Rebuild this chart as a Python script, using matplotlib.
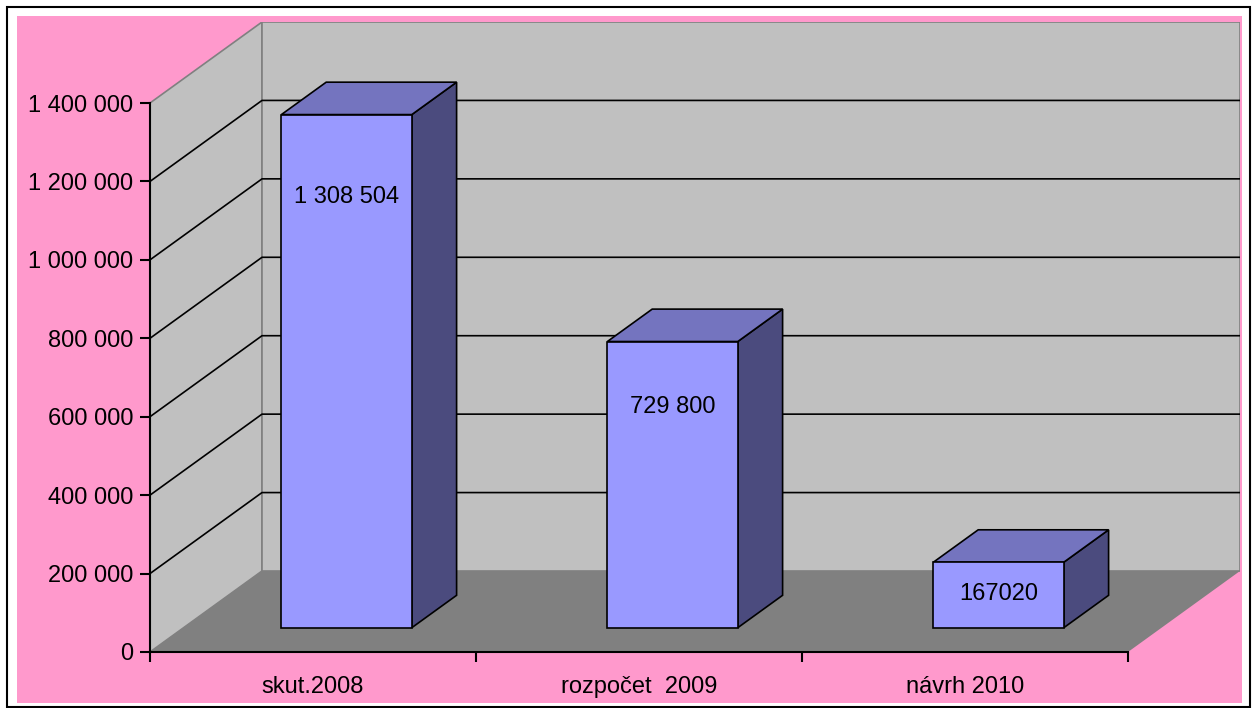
import matplotlib
matplotlib.use("Agg")
from matplotlib import pyplot as plt
from matplotlib.patches import Polygon, Rectangle
from matplotlib.ticker import FuncFormatter

# data
categories = ["skut.2008", "rozpočet  2009", "návrh 2010"]
values = [1308504, 729800, 167020]
value_labels = ["1 308 504", "729 800", "167020"]
y_ticks = [0, 200000, 400000, 600000, 800000, 1000000, 1200000, 1400000]

# layout / look
W, H = 1254, 708
YMAX = 1400000
DX = 112 / 326          # depth offset in category units (full depth)
DY = YMAX * 81 / 549    # depth offset in value units (full depth)
BAR_W = 0.4
BAR_D0, BAR_D1 = 0.3, 0.7   # bar front/back depth fraction
label_frac = [0.84, 0.77, 0.52]

PINK = "#ff99cc"
WALL = "#c0c0c0"
FLOOR = "#808080"
FRONT = "#9999ff"
TOP = "#7474bf"
SIDE = "#4b4b7e"
FONT = "Liberation Sans"

plt.rcParams["font.family"] = [FONT, "DejaVu Sans"]


def P(x, y, d):
    return (x + d * DX, y + d * DY)


fig = plt.figure(figsize=(W / 100, H / 100), dpi=100)
fig.patch.set_facecolor("white")
fig.patches.append(Rectangle((17 / W, 1 - 703 / H), (1242 - 17) / W, (703 - 16) / H,
                             transform=fig.transFigure, facecolor=PINK, edgecolor="none", zorder=-10))
fig.patches.append(Rectangle((7 / W, 1 - 707 / H), (1250 - 7) / W, (707 - 7) / H,
                             transform=fig.transFigure, facecolor="none", edgecolor="black",
                             linewidth=1.5, zorder=-9))

ax = fig.add_axes([150 / W, 56 / H, 1090 / W, 630 / H])
ax.patch.set_visible(False)
ncat = len(categories)
ax.set_xlim(0, ncat + DX)
ax.set_ylim(0, YMAX + DY)

# walls
left_wall = [P(0, 0, 0), P(0, YMAX, 0), P(0, YMAX, 1), P(0, 0, 1)]
back_wall = [P(0, 0, 1), P(0, YMAX, 1), P(ncat, YMAX, 1), P(ncat, 0, 1)]
ax.add_patch(Polygon(left_wall, closed=True, facecolor=WALL, edgecolor=FLOOR, lw=1.2, zorder=1))
ax.add_patch(Polygon(back_wall, closed=True, facecolor=WALL, edgecolor=FLOOR, lw=1.2, zorder=1))

# gridlines
for v in y_ticks[1:-1]:
    x0, y0 = P(0, v, 0)
    x1, y1 = P(0, v, 1)
    x2, y2 = P(ncat, v, 1)
    ax.plot([x0, x1, x2], [y0, y1, y2], color="black", lw=1.2, zorder=2)

# floor
floor = [P(0, 0, 0), P(ncat, 0, 0), P(ncat, 0, 1), P(0, 0, 1)]
ax.add_patch(Polygon(floor, closed=True, facecolor=FLOOR, edgecolor="none", zorder=3))

# bars
for i, v in enumerate(values):
    xl = i + 0.5 - BAR_W / 2
    xr = i + 0.5 + BAR_W / 2
    front = [P(xl, 0, BAR_D0), P(xr, 0, BAR_D0), P(xr, v, BAR_D0), P(xl, v, BAR_D0)]
    top = [P(xl, v, BAR_D0), P(xr, v, BAR_D0), P(xr, v, BAR_D1), P(xl, v, BAR_D1)]
    side = [P(xr, 0, BAR_D0), P(xr, 0, BAR_D1), P(xr, v, BAR_D1), P(xr, v, BAR_D0)]
    for poly, col in ((side, SIDE), (top, TOP), (front, FRONT)):
        ax.add_patch(Polygon(poly, closed=True, facecolor=col, edgecolor="black",
                             lw=1.2, joinstyle="miter", zorder=4))
    lx, ly = P(i + 0.5, v * label_frac[i], BAR_D0)
    ax.text(lx, ly, value_labels[i], ha="center", va="center", fontsize=17,
            color="black", zorder=5)

# axes
for s in ("top", "right"):
    ax.spines[s].set_visible(False)
ax.spines["left"].set_bounds(0, YMAX)
ax.spines["bottom"].set_bounds(0, ncat)
for s in ("left", "bottom"):
    ax.spines[s].set_linewidth(1.5)
    ax.spines[s].set_zorder(6)

ax.set_yticks(y_ticks)
ax.yaxis.set_major_formatter(FuncFormatter(lambda v, p: f"{v:,.0f}".replace(",", " ")))
ax.tick_params(axis="y", direction="out", length=7, width=1.5, pad=5, labelsize=17)

ax.set_xticks(range(ncat + 1))
ax.set_xticklabels([])
ax.set_xticks([i + 0.5 for i in range(ncat)], minor=True)
ax.set_xticklabels(categories, minor=True)
ax.tick_params(axis="x", which="major", direction="out", length=7, width=1.5)
ax.tick_params(axis="x", which="minor", length=0, pad=17, labelsize=17)

fig.savefig("out.png", dpi=100)
